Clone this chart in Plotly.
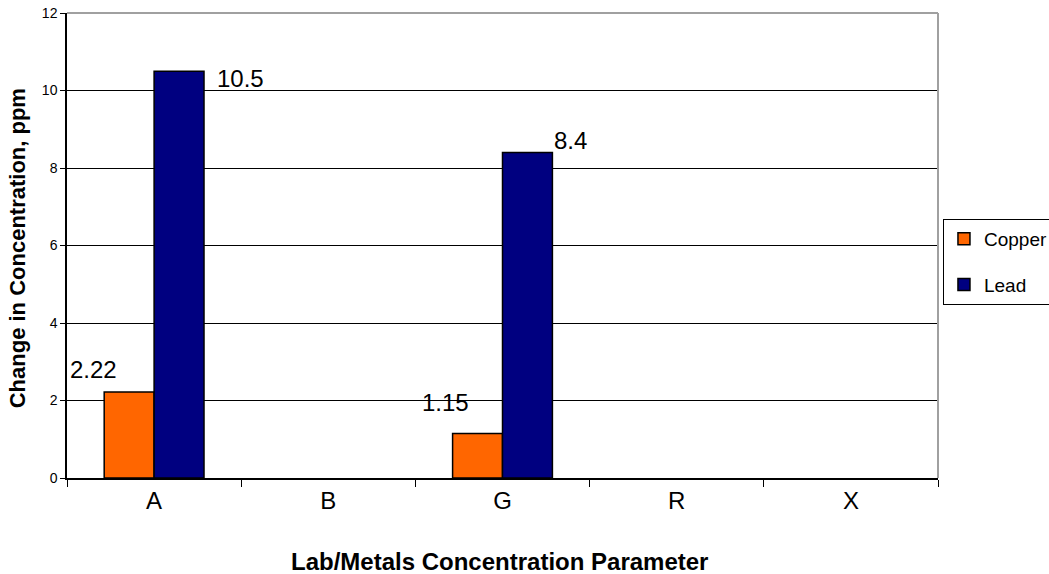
import plotly.graph_objects as go

categories = ["A", "B", "G", "R", "X"]
copper = [2.22, None, 1.15, None, None]
lead = [10.5, None, 8.4, None, None]
copper_labels = ["2.22", None, "1.15", None, None]
lead_labels = ["10.5", None, "8.4", None, None]
y_ticks = [0, 2, 4, 6, 8, 10, 12]

FONT = "Liberation Sans, Arial, sans-serif"

fig = go.Figure()
fig.add_trace(go.Bar(x=categories, y=copper, name="Copper", legendgroup="c",
                     marker=dict(color="#FF6600", line=dict(color="black", width=1.5))))
fig.add_trace(go.Bar(x=categories, y=lead, name="Lead", legendgroup="l",
                     marker=dict(color="#000080", line=dict(color="black", width=1.5))))

# data labels, offset like the original (shift relative to category centre)
copper_shift = {"A": (-61, 22), "G": (-57, 31)}
lead_shift = {"A": (86, -7), "G": (68, 12)}
for cat, v, t in zip(categories, copper, copper_labels):
    if t:
        xs, ys = copper_shift[cat]
        fig.add_annotation(x=cat, y=v, text=t, showarrow=False, xshift=xs, yshift=ys,
                           xanchor="center", yanchor="middle",
                           font=dict(size=24, color="black", family=FONT))
for cat, v, t in zip(categories, lead, lead_labels):
    if t:
        xs, ys = lead_shift[cat]
        fig.add_annotation(x=cat, y=v, text=t, showarrow=False, xshift=xs, yshift=ys,
                           xanchor="center", yanchor="middle",
                           font=dict(size=24, color="black", family=FONT))

# axis titles
fig.add_annotation(xref="paper", yref="paper", x=-0.0574, y=0.494, textangle=-90,
                   xanchor="center", yanchor="middle",
                   text="<b>Change in Concentration, ppm</b>", showarrow=False,
                   font=dict(size=22, family=FONT, color="black"))
fig.add_annotation(xref="paper", yref="paper", x=0.497, y=-0.1806,
                   xanchor="center", yanchor="middle",
                   text="<b>Lab/Metals Concentration Parameter</b>", showarrow=False,
                   font=dict(size=24, family=FONT, color="black"))

# gray top/right plot border
fig.add_shape(type="line", xref="paper", yref="paper", x0=0, x1=1, y0=1, y1=1,
              line=dict(color="#A0A0A0", width=2), layer="above")
fig.add_shape(type="line", xref="paper", yref="paper", x0=1, x1=1, y0=0, y1=1,
              line=dict(color="#A0A0A0", width=2), layer="above")

fig.update_layout(
    width=1049, height=574,
    margin=dict(l=67, r=111, t=13, b=96, autoexpand=False),
    paper_bgcolor="white", plot_bgcolor="white",
    barmode="group", bargap=0.427, bargroupgap=0,
    font=dict(family=FONT, color="black"),
    legend=dict(x=1.0057, xanchor="left", y=0.4645, yanchor="middle",
                bordercolor="black", borderwidth=1, bgcolor="white",
                font=dict(size=19, family=FONT), traceorder="grouped", tracegroupgap=18,
                itemwidth=30),
    xaxis=dict(
        type="category", categoryarray=categories, automargin=False,
        showline=True, linecolor="black", linewidth=1.5,
        ticks="outside", tickson="boundaries", ticklen=7, tickcolor="black",
        tickfont=dict(size=24, family=FONT),
        showgrid=False,
    ),
    yaxis=dict(
        range=[0, 12], tickvals=y_ticks, automargin=False,
        showline=True, linecolor="black", linewidth=1.5,
        ticks="outside", ticklen=5, tickcolor="black",
        tickfont=dict(size=14, family=FONT),
        showgrid=True, gridcolor="black", gridwidth=1,
        zeroline=False,
    ),
)

fig.write_html("out.html", config={"displayModeBar": False},
               post_script="document.body.style.margin='0';")
